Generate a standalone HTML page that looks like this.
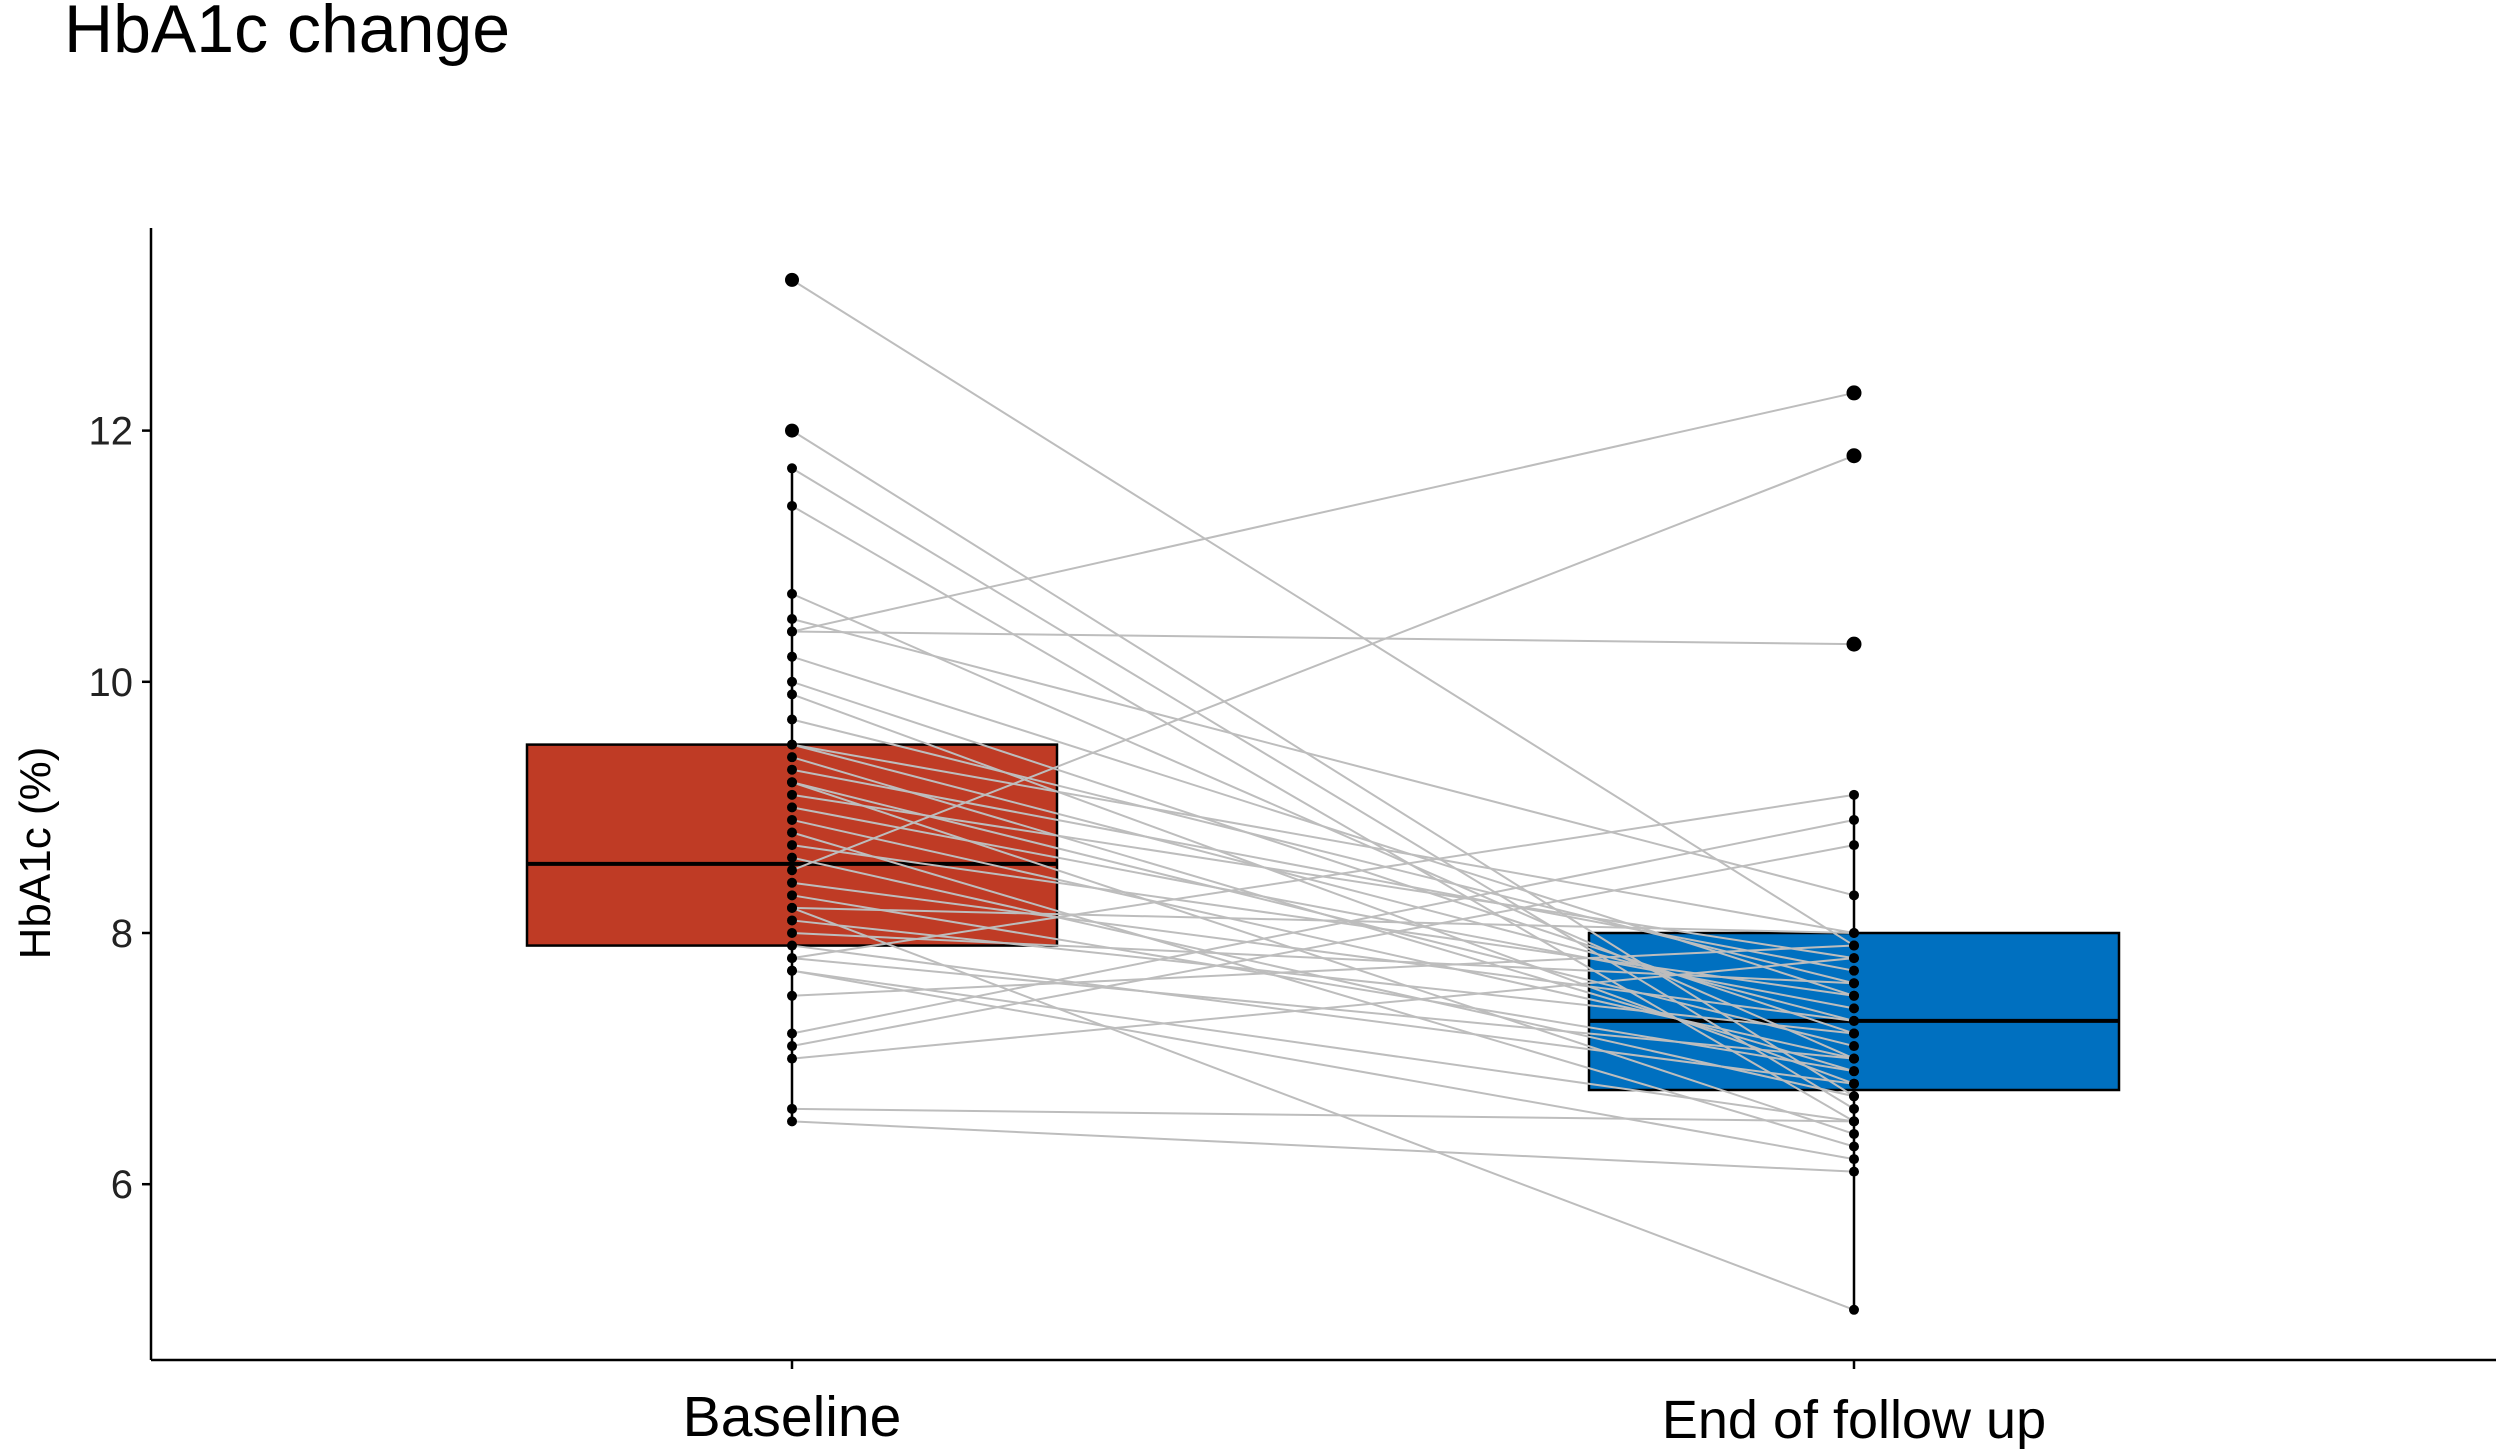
<!DOCTYPE html>
<html><head><meta charset="utf-8"><style>
html,body{margin:0;padding:0;background:#fff;}
svg{display:block;font-family:"Liberation Sans",sans-serif;}
</style></head><body>
<svg id="chart" width="2500" height="1454" viewBox="0 0 2500 1454">
<text x="64" y="52" font-size="68" fill="#000">HbA1c change</text>
<g id="plot"></g>
</svg>
<script>
const categories=["Baseline","End of follow up"];
const yTicks=[6,8,10,12];
const boxLow=[7.9,6.75];
const boxHigh=[9.5,8.0];
const medians=[8.55,7.3];
const whiskerLow=[6.5,5.0];
const whiskerHigh=[11.7,9.1];
const outliersBase=[12.0,13.2];
const outliersEnd=[10.3,11.8,12.3];
const baselineVals=[13.2,12.0,11.7,11.4,10.7,10.5,10.4,10.4,10.2,10.0,9.9,9.7,9.5,9.5,9.4,9.3,9.2,9.2,9.1,9.0,8.9,8.8,8.7,8.6,8.5,8.4,8.3,8.2,8.1,8.0,7.9,7.8,7.8,7.7,7.7,7.5,7.2,7.1,7.0,6.6,6.5,8.2];
const endVals=[7.9,6.7,6.6,6.5,7.0,8.3,12.3,10.3,7.5,7.2,6.8,7.6,8.0,7.3,6.9,7.7,7.1,6.4,7.8,7.4,7.0,6.3,7.5,6.7,11.8,7.3,6.9,8.0,7.2,7.6,6.8,9.1,7.0,6.5,6.2,7.9,8.9,8.7,7.8,6.5,6.1,5.0];
const colors=["#BF3B25","#0070C0"];
const NS="http://www.w3.org/2000/svg";
const g=document.getElementById('plot');
const xLeft=151,xRight=2496,yBottom=1360;
function y(v){return 933-(v-8)*125.6;}
const xPos=[792,1854];
function x(i){return xPos[i];}
const boxHalf=265;
function el(t,a){const e=document.createElementNS(NS,t);for(const k in a)e.setAttribute(k,a[k]);g.appendChild(e);return e;}
let e=el('line',{x1:xLeft,y1:228,x2:xLeft,y2:yBottom,stroke:'#000','stroke-width':2.5});


e=el('line',{x1:xLeft,y1:yBottom,x2:xRight,y2:yBottom,stroke:'#000','stroke-width':2.5});


yTicks.forEach(t=>{
 let l=el('line',{x1:xLeft-9,y1:y(t),x2:xLeft,y2:y(t),stroke:'#000','stroke-width':2.5});
 
 
 let tx=el('text',{x:xLeft-18,y:y(t)+14,'text-anchor':'end','font-size':40,fill:'#222'});
 tx.textContent=t;
 
 
});
categories.forEach((c,i)=>{
 let l=el('line',{x1:x(i),y1:yBottom,x2:x(i),y2:yBottom+9,stroke:'#000','stroke-width':2.5});
 
 
 let tx=el('text',{x:x(i),y:yBottom+(i==0?76:78),'text-anchor':'middle','font-size':i==0?57:54,fill:'#000'});
 tx.textContent=c;
 
 
});
let yt=el('text',{x:0,y:0,'text-anchor':'middle','font-size':44,fill:'#000',transform:'translate(50,853) rotate(-90)'});
yt.textContent='HbA1c (%)';


categories.forEach((c,i)=>{
 let w=el('line',{x1:x(i),y1:y(whiskerLow[i]),x2:x(i),y2:y(whiskerHigh[i]),stroke:'#000','stroke-width':2.5});
 
 
 let r=el('rect',{x:x(i)-boxHalf,y:y(boxHigh[i]),width:boxHalf*2,height:y(boxLow[i])-y(boxHigh[i]),fill:colors[i],stroke:'#000','stroke-width':2.5});
 
 
 let m=el('line',{x1:x(i)-boxHalf,y1:y(medians[i]),x2:x(i)+boxHalf,y2:y(medians[i]),stroke:'#000','stroke-width':4});
 
 
});
baselineVals.forEach((b,k)=>{
 let l=el('line',{x1:x(0),y1:y(b),x2:x(1),y2:y(endVals[k]),stroke:'#BDBDBD','stroke-width':2});
 
 
});
baselineVals.forEach(b=>{
 let p=el('circle',{cx:x(0),cy:y(b),r:5,fill:'#000'});
 
 
});
endVals.forEach(v=>{
 let p=el('circle',{cx:x(1),cy:y(v),r:5,fill:'#000'});
 
 
});
outliersBase.forEach(v=>{
 let p=el('circle',{cx:x(0),cy:y(v),r:7,fill:'#000'});
 
 
});
outliersEnd.forEach(v=>{
 let p=el('circle',{cx:x(1),cy:y(v),r:7.5,fill:'#000'});
 
 
});
</script>
</body></html>
